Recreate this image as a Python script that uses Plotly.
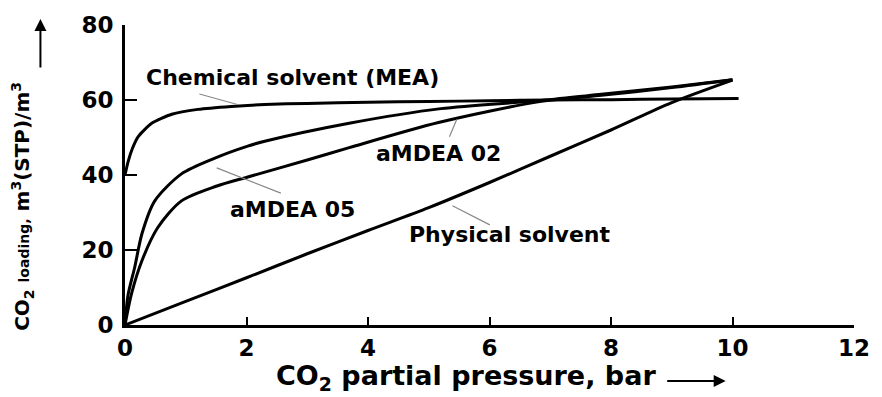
import plotly.graph_objects as go

# ---- data ----
mea_x = [0, 0.05, 0.12, 0.22, 0.44, 0.77, 1.2, 1.75, 2.3, 3, 4, 5, 6, 7, 8, 9, 10.1]
mea_y = [40, 43.5, 47, 50.3, 53.8, 56.2, 57.5, 58.3, 58.8, 59.1, 59.4, 59.6, 59.8, 60, 60.1, 60.3, 60.4]

amdea05_x = [0, 0.05, 0.16, 0.28, 0.49, 0.93, 1.48, 2.02, 2.3, 3.69, 5.2, 6.8, 7.8, 9, 10]
amdea05_y = [0, 8, 15.4, 24.4, 33.1, 40.3, 44.5, 47.7, 49, 53.8, 57.7, 59.8, 61.5, 63.5, 65.4]

amdea02_x = [0, 0.11, 0.28, 0.54, 0.93, 1.5, 2.05, 3, 3.69, 5.16, 6.8, 7.8, 9, 10]
amdea02_y = [0, 8.5, 17.2, 26, 33.1, 37, 39.6, 44, 47.3, 54, 59.5, 61.2, 63.3, 65.4]

phys_x = [0, 1, 2, 3, 4, 5, 6, 7, 8, 9, 10]
phys_y = [0, 6.3, 12.6, 19, 25.2, 31.3, 38, 45, 52, 59.3, 65.3]

x_ticks = [0, 2, 4, 6, 8, 10, 12]
y_ticks = [0, 20, 40, 60, 80]

# labels: (text, label_x, label_y, pointer_from_x, pointer_from_y, pointer_to_x, pointer_to_y)
labels = [
    ("Chemical solvent (MEA)", 2.75, 66.0, 1.2, 61.7, 1.85, 58.8),
    ("aMDEA 02", 5.16, 45.8, 5.33, 49.8, 5.46, 54.8),
    ("aMDEA 05", 2.75, 30.7, 2.59, 35.0, 1.51, 41.9),
    ("Physical solvent", 6.34, 24.1, 6.03, 26.5, 5.39, 31.8),
]

FONT = "DejaVu Sans"

fig = go.Figure()
for name, xs, ys, sm in [("Chemical solvent (MEA)", mea_x, mea_y, 0.6),
                         ("aMDEA 05", amdea05_x, amdea05_y, 0.8),
                         ("aMDEA 02", amdea02_x, amdea02_y, 0.8),
                         ("Physical solvent", phys_x, phys_y, 0.8)]:
    fig.add_trace(go.Scatter(x=xs, y=ys, mode="lines", name=name,
                             line=dict(color="black", width=3, shape="spline", smoothing=sm),
                             showlegend=False, hoverinfo="skip"))

annotations = []
for text, lx, ly, fx, fy, tx, ty in labels:
    annotations.append(dict(x=lx, y=ly, xref="x", yref="y", text=text, showarrow=False,
                            font=dict(family=FONT, size=22, color="black", weight="bold"),
                            xanchor="center", yanchor="middle"))
    annotations.append(dict(x=tx, y=ty, ax=fx, ay=fy, xref="x", yref="y", axref="x", ayref="y",
                            text="", showarrow=True, arrowhead=0, arrowwidth=1.2,
                            arrowcolor="#888888"))

# axis titles
annotations.append(dict(x=0.468, y=-0.175, xref="paper", yref="paper",
                        text="CO<sub>2</sub> partial pressure, bar", showarrow=False,
                        font=dict(family=FONT, size=27, color="black", weight="bold"),
                        xanchor="center", yanchor="middle"))
annotations.append(dict(x=0.824, y=-0.187, xref="paper", yref="paper", ax=-60, ay=0,
                        text="", showarrow=True, arrowhead=2, arrowsize=1.2, arrowwidth=2,
                        arrowcolor="black"))
annotations.append(dict(x=-0.14, y=0.397, xref="paper", yref="paper", textangle=-90,
                        text="CO<sub>2</sub> <span style='font-size:14px'>loading,</span> m<sup>3</sup>(STP)/m<sup>3</sup>",
                        showarrow=False, font=dict(family=FONT, size=20, color="black", weight="bold"),
                        xanchor="center", yanchor="middle"))
annotations.append(dict(x=-0.116, y=1.02, xref="paper", yref="paper", ax=0, ay=50,
                        text="", showarrow=True, arrowhead=2, arrowsize=1.2, arrowwidth=2,
                        arrowcolor="black"))

tickfont = dict(family=FONT, size=23, color="black", weight="bold")
fig.update_layout(
    width=882, height=397,
    margin=dict(l=125, r=25, t=23, b=72),
    paper_bgcolor="white", plot_bgcolor="white",
    font=dict(family=FONT, color="black"),
    annotations=annotations,
    xaxis=dict(range=[0, 12], tickvals=x_ticks, ticktext=[str(v) for v in x_ticks],
               showgrid=False, zeroline=False, showline=True, linecolor="black", linewidth=3,
               ticks="inside", ticklen=8, tickwidth=2, tickcolor="black",
               tickfont=tickfont, ticklabelstandoff=0),
    yaxis=dict(range=[0, 80], tickvals=y_ticks, ticktext=[str(v) for v in y_ticks],
               showgrid=False, zeroline=False, showline=True, linecolor="black", linewidth=3,
               ticks="inside", ticklen=12, tickwidth=2, tickcolor="black",
               tickfont=tickfont, ticklabelstandoff=4),
)

fig.write_html("out.html")
